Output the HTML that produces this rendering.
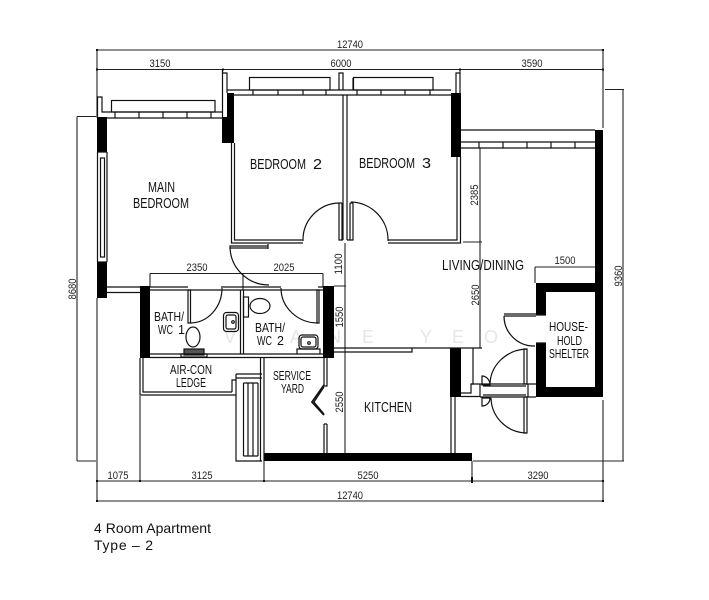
<!DOCTYPE html>
<html><head><meta charset="utf-8"><style>
html,body{margin:0;padding:0;background:#fff;width:709px;height:600px;overflow:hidden}
svg{display:block;filter:blur(0.3px)}
text{font-family:"Liberation Sans",sans-serif;fill:#111}
.d{font-size:11px;text-anchor:middle;fill:#222}
.r{font-size:15px;fill:#111}
.s{font-size:12.500px;fill:#111}
</style></head><body>
<svg width="709" height="600" viewBox="0 0 709 600" xmlns="http://www.w3.org/2000/svg">
<rect width="709" height="600" fill="#fff"/>
<!-- watermark -->
<g font-size="18">
<text x="224" y="343" style="fill:#e6e6e6">V</text><text x="290" y="343" style="fill:#e6e6e6">A</text><text x="328" y="343" style="fill:#e2e2e2">N</text><text x="362" y="343" style="fill:#e6e6e6">E</text><text x="420" y="343" style="fill:#e6e6e6">Y</text><text x="452" y="343" style="fill:#e6e6e6">E</text><text x="484" y="343" style="fill:#e6e6e6">O</text>
</g>
<!-- dimension lines -->
<g stroke="#222" stroke-width="1.100" fill="none">
<path d="M97 50H603M97 69.500H603M97 50V118M222.500 69V74M460 69V74M603 50V128"/>
<path d="M97 481H603M97 501H603M97 298V501M140 396V481M264 461V481M472 461V481M603 400V501"/>
<path d="M77 116.500V461M77 116.500H96M77 461H96M623 89.500V461M605 89.500H624M473 461H624"/>
<path d="M480 148V348M463 242H482M535 267H595M535 267V283"/>
<path d="M150 273.500H323M150 273.500V287M243 273.500V290M323 273.500V287"/>
<path d="M345 243V453M334 286H346M334 348H346"/>
</g>
<g fill="#111">
<rect x="96" y="49" width="2" height="2"/><rect x="602" y="49" width="2" height="2"/><rect x="96" y="68.500" width="2" height="2"/><rect x="222" y="68.500" width="2" height="2"/><rect x="459" y="68.500" width="2" height="2"/><rect x="602" y="68.500" width="2" height="2"/>
<rect x="96" y="480" width="2" height="2"/><rect x="139" y="480" width="2" height="2"/><rect x="263" y="480" width="2" height="2"/><rect x="471" y="477" width="2" height="6"/><rect x="602" y="480" width="2" height="2"/><rect x="96" y="500" width="2" height="2"/><rect x="602" y="500" width="2" height="2"/>
</g>
<!-- black walls -->
<g fill="#000">
<rect x="97" y="117" width="10" height="35"/>
<rect x="97" y="262" width="10" height="36"/>
<rect x="222" y="117" width="12" height="26"/>
<rect x="227" y="93" width="7" height="24"/>
<rect x="451" y="93" width="10" height="64"/>
<rect x="595" y="130" width="8" height="267"/>
<rect x="536" y="283" width="67" height="9"/>
<rect x="536" y="283" width="10" height="32"/>
<rect x="536" y="343" width="10" height="54"/>
<rect x="536" y="387" width="67" height="10"/>
<rect x="140" y="286" width="10" height="72"/>
<rect x="323" y="286" width="11" height="72"/>
<rect x="450" y="348" width="11" height="49"/>
<rect x="264" y="453" width="208" height="8"/>
</g>
<!-- line work -->
<g stroke="#111" stroke-width="1.200" fill="none">
<!-- main bedroom window -->
<rect x="100.500" y="158" width="4" height="99"/>
<path d="M97.500 152V262M107 152V262M97.500 152H107M97.500 262H107"/>
<path d="M97.500 117V97H102V112H222M107 118H222M222.500 69V117M222.500 73H227V93"/>
<rect x="111.500" y="100.500" width="103.500" height="11.500"/>
<path d="M115 112V118M139 112V118M163 112V118M187 112V118M211 112V118"/>
<!-- bedroom windows -->
<path d="M227 90H451M234 95H451"/>
<rect x="249.500" y="77.500" width="80.500" height="12.500"/>
<rect x="353.500" y="77.500" width="79.500" height="12.500"/>
<path d="M253 90V95M278 90V95M303 90V95M326 90V95M357 90V95M381 90V95M405 90V95M430 90V95"/>
<path d="M339 90V73H343V90M353 90V78M456 93V73H460V93"/>
<!-- bedroom walls -->
<path d="M343 95V240M347 95V240"/>
<path d="M339 203V240H343M342 203V240M350 203V240M353 203V240H347M339 203H342M350 203H353"/>
<path d="M231.500 143V243H303M234.500 143V240H303"/>
<path d="M388 240H457V157M388 243H460.500V157"/>
<path d="M339 203A37 37 0 0 0 303 241"/>
<path d="M351 202A38 38 0 0 1 388 241"/>
<!-- main bedroom door -->
<path d="M230 246H268V248H230ZM268 244V249"/>
<path d="M230 248A39 39 0 0 0 269 285"/>
<path d="M107 287H140M107 292.500H140"/>
<!-- living window -->
<path d="M461 130H595M461 142H595M461 148H595"/>
<path d="M479 142V148M503 142V148M527 142V148M551 142V148M575 142V148"/>
<!-- baths -->
<path d="M150 287H188M150 290H323M221 287H281M318 287H323M240.500 290V354M243.500 290V354M150 354H323M150 357.500H323"/>
<path d="M188 290V323H190.500V290Z"/>
<path d="M190 323A32 35 0 0 0 222 288"/>
<path d="M317 290V323H319V290Z"/>
<path d="M281 288A37 35 0 0 0 318 323"/>
<!-- fixtures -->
<rect x="223.500" y="312.500" width="15" height="19" rx="3"/>
<rect x="226" y="315" width="10" height="14" rx="2"/>
<circle cx="233" cy="322" r="1.300"/>
<ellipse cx="193" cy="337" rx="7" ry="10"/>
<rect x="184" y="349" width="20" height="6" fill="#555"/>
<path d="M181 354H207V357H181Z"/>
<rect x="243.500" y="297" width="5" height="20"/>
<ellipse cx="260" cy="306" rx="10" ry="7.500"/>
<rect x="299" y="335" width="19" height="14" rx="3"/>
<rect x="301" y="337" width="15" height="10" rx="2"/>
<circle cx="309" cy="343" r="1.300"/>
<path d="M297 354V349H320V354"/>
<!-- air con ledge -->
<path d="M140 358V395H236M143 358V392H232M236 374V461H262M236 374H262M236 378H262M232 392V380H236"/>
<path d="M260.500 357V461M264 357V461"/>
<path d="M243.500 383V456M248 383V456M253 383V456M258 383V456M243.500 383H258M243.500 456H258"/>
<!-- service yard -->
<path d="M324 358V386H327V358M324 424V453M327 424V453M324 424H327"/>
<path d="M324 385L312 402L324 415" stroke-width="1.800"/>
<path d="M324 387L314 402L324 414"/>
<!-- kitchen wall -->
<path d="M334 348H482M334 352H412V348M461 348H473V384H471V393H461M461 396.500H480"/>
<path d="M451 397V453M455 397V453"/>
<!-- entrance door -->
<path d="M471 384H536M480 397H536M480 384V397M528 384V397M483 386H526M483 395H526"/>
<path d="M524 349V384H527V349ZM524 397V433H527V397Z"/>
<path d="M527 349A38 36 0 0 0 490 385"/>
<path d="M491 398A36 36 0 0 0 526 433"/>
<path d="M482 376V385H490A8 9 0 0 0 482 376ZM482 398V406A8 8 0 0 0 490 398Z"/>
<!-- shelter door -->
<path d="M504 314H536M504 316H536"/>
<path d="M504 316A30 30 0 0 0 535 346"/>
<path d="M536 315H546M536 343H546"/>
</g>
<!-- dimension text -->
<text class="d" x="350" y="48" textLength="26" lengthAdjust="spacingAndGlyphs">12740</text>
<text class="d" x="160" y="67" textLength="21" lengthAdjust="spacingAndGlyphs">3150</text>
<text class="d" x="341" y="67" textLength="21" lengthAdjust="spacingAndGlyphs">6000</text>
<text class="d" x="532" y="67" textLength="21" lengthAdjust="spacingAndGlyphs">3590</text>
<text class="d" x="197" y="271" textLength="21" lengthAdjust="spacingAndGlyphs">2350</text>
<text class="d" x="284" y="271" textLength="21" lengthAdjust="spacingAndGlyphs">2025</text>
<text class="d" x="565" y="264" textLength="21" lengthAdjust="spacingAndGlyphs">1500</text>
<text class="d" x="118" y="479" textLength="21" lengthAdjust="spacingAndGlyphs">1075</text>
<text class="d" x="202" y="479" textLength="21" lengthAdjust="spacingAndGlyphs">3125</text>
<text class="d" x="368" y="479" textLength="21" lengthAdjust="spacingAndGlyphs">5250</text>
<text class="d" x="538" y="479" textLength="21" lengthAdjust="spacingAndGlyphs">3290</text>
<text class="d" x="350" y="499" textLength="26" lengthAdjust="spacingAndGlyphs">12740</text>
<text class="d" transform="translate(342 264) rotate(-90)" textLength="21" lengthAdjust="spacingAndGlyphs">1100</text>
<text class="d" transform="translate(343 317) rotate(-90)" textLength="21" lengthAdjust="spacingAndGlyphs">1550</text>
<text class="d" transform="translate(343 402) rotate(-90)" textLength="21" lengthAdjust="spacingAndGlyphs">2550</text>
<text class="d" transform="translate(478 195) rotate(-90)" textLength="21" lengthAdjust="spacingAndGlyphs">2385</text>
<text class="d" transform="translate(479 295) rotate(-90)" textLength="21" lengthAdjust="spacingAndGlyphs">2650</text>
<text class="d" transform="translate(622 276) rotate(-90)" textLength="21" lengthAdjust="spacingAndGlyphs">9360</text>
<text class="d" transform="translate(76 289) rotate(-90)" textLength="21" lengthAdjust="spacingAndGlyphs">8680</text>
<!-- room labels -->
<text class="r" x="250" y="169" textLength="56" lengthAdjust="spacingAndGlyphs">BEDROOM</text>
<text class="r" x="313" y="169" textLength="9" lengthAdjust="spacingAndGlyphs">2</text>
<text class="r" x="359" y="168" textLength="56" lengthAdjust="spacingAndGlyphs">BEDROOM</text>
<text class="r" x="422" y="168" textLength="9" lengthAdjust="spacingAndGlyphs">3</text>
<text class="r" x="148" y="192" textLength="27" lengthAdjust="spacingAndGlyphs">MAIN</text>
<text class="r" x="133" y="208" textLength="56" lengthAdjust="spacingAndGlyphs">BEDROOM</text>
<text class="r" x="442" y="270" textLength="82" lengthAdjust="spacingAndGlyphs">LIVING/DINING</text>
<text class="r" x="364" y="412" textLength="48" lengthAdjust="spacingAndGlyphs">KITCHEN</text>
<text class="s" x="154" y="321" textLength="30" lengthAdjust="spacingAndGlyphs">BATH/</text>
<text class="s" x="158" y="334" textLength="15" lengthAdjust="spacingAndGlyphs">WC</text>
<text class="s" x="178" y="334">1</text>
<text class="s" x="255" y="332" textLength="30" lengthAdjust="spacingAndGlyphs">BATH/</text>
<text class="s" x="257" y="345" textLength="15" lengthAdjust="spacingAndGlyphs">WC</text>
<text class="s" x="277" y="345">2</text>
<text class="s" x="170" y="374" textLength="42" lengthAdjust="spacingAndGlyphs">AIR-CON</text>
<text class="s" x="176" y="387" textLength="30" lengthAdjust="spacingAndGlyphs">LEDGE</text>
<text class="s" x="273" y="380" textLength="38" lengthAdjust="spacingAndGlyphs">SERVICE</text>
<text class="s" x="281" y="393" textLength="23" lengthAdjust="spacingAndGlyphs">YARD</text>
<text class="s" x="549" y="331" textLength="39" lengthAdjust="spacingAndGlyphs">HOUSE-</text>
<text class="s" x="557" y="345" textLength="25" lengthAdjust="spacingAndGlyphs">HOLD</text>
<text class="s" x="549" y="358" textLength="40" lengthAdjust="spacingAndGlyphs">SHELTER</text>
<text x="94" y="533" font-size="14" textLength="117" lengthAdjust="spacing">4 Room Apartment</text>
<text x="94" y="550" font-size="14" textLength="59" lengthAdjust="spacing">Type – 2</text>
</svg>
</body></html>
